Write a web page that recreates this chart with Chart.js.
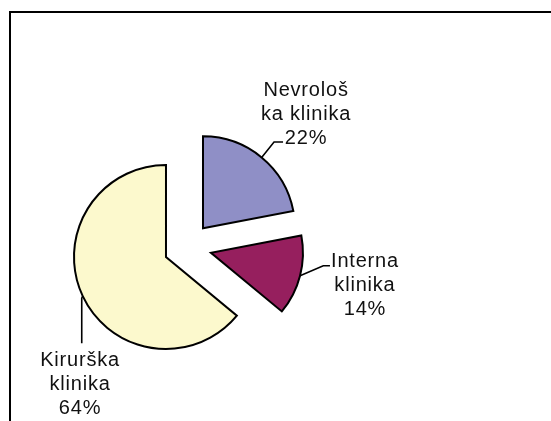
<!DOCTYPE html>
<html><head><meta charset="utf-8">
<script src="https://cdn.jsdelivr.net/npm/chart.js@4/dist/chart.umd.min.js"></script>
<style>html,body{margin:0;padding:0;background:#fff;overflow:hidden}canvas{display:block}</style>
</head><body>
<canvas id="c" width="551" height="421"></canvas>
<script>
// ---- data ----
const categories = ["Nevrološka klinika", "Interna klinika", "Kirurška klinika"];
const labelLines = [["Nevrološ", "ka klinika"], ["Interna", "klinika"], ["Kirurška", "klinika"]];
const values = [22, 14, 64];
const percentLabels = ["22%", "14%", "64%"];
const colors = ["#8F8FC6", "#961F5E", "#FCF9CD"];

// ---- styling / layout ----
const EXPLODE = 24;      // px every slice is pulled out along its bisector
const RADIUS = 92;

// Excel-style explosion: translate each arc uniformly along its bisector
const origArcDraw = Chart.ArcElement.prototype.draw;
Chart.ArcElement.prototype.draw = function (ctx) {
  const half = (this.startAngle + this.endAngle) / 2;
  ctx.save();
  ctx.translate(Math.cos(half) * EXPLODE, Math.sin(half) * EXPLODE);
  origArcDraw.call(this, ctx);
  ctx.restore();
};

// label placement relative to the point where the slice bisector meets the rim
const labelLayout = [
  { leader: [[12.4, -15.4], [21.4, -15.4]], textDx: 44.4, firstBaseline: -61.4 },
  { leader: [[23.2, -9.9], [29.9, -9.9]], textDx: 64.9, firstBaseline: -8.9 },
  { leader: [[-1, 2], [-1, 47]], textDx: -2.7, firstBaseline: 70 }
];
const LINE_H = 24;

const framePlugin = {
  id: 'frame',
  beforeDraw(chart) {
    const ctx = chart.ctx;
    ctx.save();
    ctx.fillStyle = '#000';
    ctx.fillRect(9, 11, chart.width - 9, 2);
    ctx.fillRect(9, 11, 2, chart.height - 11);
    ctx.restore();
  }
};

const labelPlugin = {
  id: 'pieLabels',
  afterDatasetsDraw(chart) {
    const ctx = chart.ctx;
    const meta = chart.getDatasetMeta(0);
    ctx.save();
    ctx.strokeStyle = '#000';
    ctx.lineWidth = 1.6;
    ctx.fillStyle = '#111';
    ctx.font = '20px "Liberation Sans", Arial, sans-serif';
    try { ctx.letterSpacing = '0.8px'; } catch (e) {}
    ctx.textAlign = 'center';
    ctx.textBaseline = 'alphabetic';
    meta.data.forEach((arc, i) => {
      const half = (arc.startAngle + arc.endAngle) / 2;
      const r = arc.outerRadius + EXPLODE;
      const ax = arc.x + Math.cos(half) * r;
      const ay = arc.y + Math.sin(half) * r;
      const L = labelLayout[i];
      ctx.beginPath();
      ctx.moveTo(ax, ay);
      L.leader.forEach(p => ctx.lineTo(ax + p[0], ay + p[1]));
      ctx.stroke();
      const lines = labelLines[i].concat([percentLabels[i]]);
      lines.forEach((t, k) => {
        ctx.fillText(t, ax + L.textDx, ay + L.firstBaseline + k * LINE_H);
      });
    });
    ctx.restore();
  }
};

// chart center at (187.7, 246.8)
const W = 551, H = 421, CX = 187.7, CY = 246.8;

new Chart(document.getElementById('c'), {
  type: 'pie',
  data: {
    labels: categories,
    datasets: [{
      data: values,
      backgroundColor: colors,
      borderColor: '#000',
      borderWidth: 2,
      borderJoinStyle: 'miter',
      offset: 0,
      radius: RADIUS
    }]
  },
  options: {
    responsive: false,
    animation: false,
    events: [],
    rotation: 0,
    layout: { padding: { left: 0, right: W - 2 * CX, top: 2 * CY - H, bottom: 0 } },
    plugins: { legend: { display: false }, tooltip: { enabled: false } }
  },
  plugins: [framePlugin, labelPlugin]
});
</script>
</body></html>
